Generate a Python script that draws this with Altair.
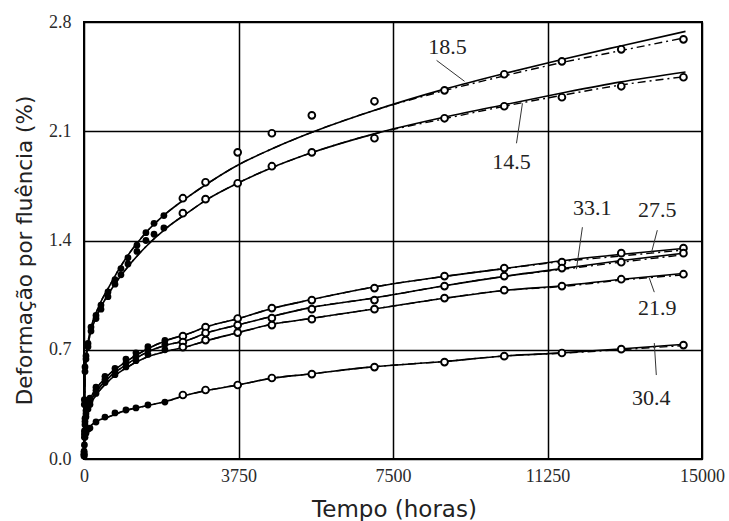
import altair as alt
import pandas as pd

# ---------------- data ----------------
# open-circle observations (hours)
OPEN_T = [2400, 2950, 3730, 4560, 5530, 7050, 8750, 10200, 11600, 13040, 14550]
OPEN_185 = [1.671, 1.773, 1.965, 2.087, 2.202, 2.292, 2.362, 2.465, 2.548, 2.625, 2.689]
OPEN_145 = [1.575, 1.665, 1.767, 1.876, 1.965, 2.055, 2.183, 2.260, 2.318, 2.388, 2.446]
OPEN_275 = [0.787, 0.845, 0.900, 0.967, 1.018, 1.095, 1.172, 1.223, 1.261, 1.319, 1.351]
OPEN_331 = [0.749, 0.807, 0.858, 0.903, 0.960, 1.018, 1.108, 1.172, 1.223, 1.261, 1.319]
OPEN_219 = [0.717, 0.762, 0.810, 0.858, 0.896, 0.960, 1.031, 1.082, 1.108, 1.152, 1.184]
OPEN_304 = [0.410, 0.442, 0.474, 0.519, 0.544, 0.589, 0.621, 0.659, 0.679, 0.704, 0.730]

# filled-dot observations (early times)
FILL_T_TOP = [2, 8, 24, 48, 97, 170, 291, 412, 582, 752, 897, 1067, 1285, 1503, 1700, 1939]
FILL_185 = [0.02, 0.38, 0.59, 0.66, 0.74, 0.845, 0.92, 0.986, 1.07, 1.15, 1.22, 1.29, 1.37, 1.45, 1.51, 1.56]
FILL_145 = [0.02, 0.35, 0.56, 0.64, 0.72, 0.82, 0.90, 0.96, 1.04, 1.12, 1.18, 1.25, 1.33, 1.40, 1.44, 1.48]
FILL_T_LOW = [2, 10, 24, 48, 97, 145, 291, 509, 752, 1018, 1261, 1552, 1964]
FILL_275 = [0.05, 0.18, 0.26, 0.31, 0.36, 0.39, 0.46, 0.53, 0.58, 0.64, 0.68, 0.72, 0.76]
FILL_331 = [0.04, 0.16, 0.24, 0.29, 0.34, 0.37, 0.44, 0.51, 0.56, 0.615, 0.655, 0.70, 0.735]
FILL_219 = [0.03, 0.14, 0.22, 0.27, 0.32, 0.35, 0.42, 0.49, 0.54, 0.59, 0.63, 0.67, 0.70]
FILL_304 = [0.03, 0.09, 0.14, 0.165, 0.19, 0.198, 0.237, 0.269, 0.295, 0.314, 0.327, 0.346, 0.365]

# fitted curves (solid and dash-dot)
LINE_T = [0, 24, 100, 300, 600, 1000, 1500, 2000, 2500, 3000, 3750, 4500, 5500, 7000,
          8750, 10200, 11600, 13000, 14600]
SOLID_185 = [0, 0.56, 0.75, 0.94, 1.10, 1.28, 1.45, 1.575, 1.675, 1.765, 1.885, 1.98, 2.09, 2.23,
             2.37, 2.47, 2.56, 2.645, 2.74]
DASH_185 = [0, 0.56, 0.75, 0.94, 1.10, 1.28, 1.45, 1.575, 1.675, 1.765, 1.885, 1.98, 2.09, 2.23,
            2.36, 2.455, 2.54, 2.615, 2.70]
SOLID_145 = [0, 0.55, 0.73, 0.91, 1.06, 1.21, 1.36, 1.48, 1.575, 1.665, 1.77, 1.86, 1.96, 2.08,
             2.19, 2.27, 2.345, 2.415, 2.48]
DASH_145 = [0, 0.55, 0.73, 0.91, 1.06, 1.21, 1.36, 1.48, 1.575, 1.665, 1.77, 1.86, 1.96, 2.08,
            2.18, 2.26, 2.33, 2.395, 2.45]
SOLID_275 = [0, 0.25, 0.35, 0.45, 0.54, 0.62, 0.70, 0.76, 0.80, 0.85, 0.90, 0.96, 1.02, 1.10,
             1.17, 1.22, 1.27, 1.31, 1.35]
SOLID_331 = [0, 0.23, 0.33, 0.43, 0.52, 0.60, 0.68, 0.73, 0.76, 0.81, 0.86, 0.91, 0.97, 1.03,
             1.11, 1.17, 1.22, 1.27, 1.32]
SOLID_219 = [0, 0.21, 0.31, 0.41, 0.50, 0.58, 0.65, 0.69, 0.72, 0.76, 0.81, 0.86, 0.90, 0.96,
             1.03, 1.08, 1.11, 1.15, 1.19]
SOLID_304 = [0, 0.14, 0.19, 0.24, 0.27, 0.31, 0.34, 0.37, 0.41, 0.44, 0.475, 0.515, 0.545, 0.59,
             0.625, 0.66, 0.68, 0.705, 0.735]
DASH_275 = [0, 0.25, 0.35, 0.45, 0.54, 0.62, 0.70, 0.76, 0.80, 0.85, 0.90, 0.96, 1.02, 1.10,
            1.17, 1.22, 1.265, 1.30, 1.34]
DASH_331 = [0, 0.23, 0.33, 0.43, 0.52, 0.60, 0.68, 0.73, 0.76, 0.81, 0.86, 0.91, 0.97, 1.03,
            1.11, 1.17, 1.215, 1.26, 1.31]
DASH_219 = [0, 0.21, 0.31, 0.41, 0.50, 0.58, 0.65, 0.69, 0.72, 0.76, 0.81, 0.86, 0.90, 0.96,
            1.03, 1.08, 1.105, 1.145, 1.18]
DASH_304 = [0, 0.14, 0.19, 0.24, 0.27, 0.31, 0.34, 0.37, 0.41, 0.44, 0.475, 0.515, 0.545, 0.59,
            0.625, 0.66, 0.678, 0.70, 0.728]

# curve labels and their leader lines
LABEL_TEXT = ["18.5", "14.5", "33.1", "27.5", "21.9", "30.4"]
LABEL_T = [8824, 10376, 12339, 13915, 13915, 13770]
LABEL_V = [2.638, 1.901, 1.607, 1.594, 0.967, 0.390]
LEAD_T1 = [8558, 10497, 12097, 13915, 13721, 13842]
LEAD_V1 = [2.554, 2.023, 1.485, 1.466, 1.159, 0.743]
LEAD_T2 = [9236, 10642, 11952, 13770, 13842, 13891]
LEAD_V2 = [2.420, 2.279, 1.216, 1.319, 1.069, 0.538]

X_TICKS = [0, 3750, 7500, 11250, 15000]
Y_TICKS = [0.0, 0.7, 1.4, 2.1, 2.8]

# ---------------- tables ----------------
def long(ts, series):
    rows = []
    for name, vals in series.items():
        for t, v in zip(ts, vals):
            rows.append({"curve": name, "t": t, "v": v})
    return pd.DataFrame(rows)

open_df = long(OPEN_T, {"18.5": OPEN_185, "14.5": OPEN_145, "27.5": OPEN_275,
                        "33.1": OPEN_331, "21.9": OPEN_219, "30.4": OPEN_304})
fill_df = pd.concat([
    long(FILL_T_TOP, {"18.5": FILL_185, "14.5": FILL_145}),
    long(FILL_T_LOW, {"27.5": FILL_275, "33.1": FILL_331, "21.9": FILL_219, "30.4": FILL_304}),
])
solid_df = long(LINE_T, {"18.5": SOLID_185, "14.5": SOLID_145, "27.5": SOLID_275,
                         "33.1": SOLID_331, "21.9": SOLID_219, "30.4": SOLID_304})
dash_df = long(LINE_T, {"18.5": DASH_185, "14.5": DASH_145, "27.5": DASH_275,
                        "33.1": DASH_331, "21.9": DASH_219, "30.4": DASH_304})
label_df = pd.DataFrame({"text": LABEL_TEXT, "t": LABEL_T, "v": LABEL_V})
lead_df = pd.DataFrame({"t1": LEAD_T1, "v1": LEAD_V1, "t2": LEAD_T2, "v2": LEAD_V2})

x_scale = alt.Scale(domain=[0, 15000], nice=False, zero=False)
y_scale = alt.Scale(domain=[0, 2.8], nice=False, zero=False)

x_axis = alt.Axis(values=X_TICKS, format="d", title="Tempo (horas)", grid=True,
                  gridColor="black", gridWidth=1.5, gridOpacity=1, ticks=False, domain=False,
                  labelFont="Liberation Serif", labelFontSize=18, labelColor="#2a2a2a",
                  labelPadding=8, labelFlush=False,
                  titleFont="DejaVu Sans", titleFontSize=23, titleFontWeight="normal",
                  titleColor="#222", titleX=310, titleY=57, titleBaseline="alphabetic",
                  titleAlign="center")
y_axis = alt.Axis(values=Y_TICKS, format=".1f", title="Deformação por fluência (%)", grid=True,
                  gridColor="black", gridWidth=1.5, gridOpacity=1, ticks=False, domain=False,
                  labelFont="Liberation Serif", labelFontSize=18, labelColor="#2a2a2a",
                  labelPadding=13, labelFlush=False,
                  titleFont="DejaVu Sans", titleFontSize=21.5, titleFontWeight="normal",
                  titleColor="#222", titleAngle=-90, titleX=-53, titleY=228,
                  titleBaseline="alphabetic", titleAlign="center")

X = alt.X("t:Q", scale=x_scale, axis=x_axis)
Y = alt.Y("v:Q", scale=y_scale, axis=y_axis)
Xn = alt.X("t:Q", scale=x_scale)
Yn = alt.Y("v:Q", scale=y_scale)

solid = alt.Chart(solid_df).mark_line(color="black", strokeWidth=1.6, interpolate="monotone").encode(
    x=X, y=Y, detail="curve:N", order="t:Q")
dashed = alt.Chart(dash_df).mark_line(color="black", strokeWidth=1.4, strokeDash=[8, 4, 2, 4],
                                      interpolate="monotone").encode(
    x=Xn, y=Yn, detail="curve:N", order="t:Q")
filled = alt.Chart(fill_df).mark_circle(color="black", size=46, opacity=1).encode(x=Xn, y=Yn)
opened = alt.Chart(open_df).mark_point(shape="circle", filled=True, fill="white", stroke="black",
                                       strokeWidth=1.9, size=46, opacity=1).encode(x=Xn, y=Yn)
leaders = alt.Chart(lead_df).mark_rule(color="#333", strokeWidth=1).encode(
    x=alt.X("t1:Q", scale=x_scale), y=alt.Y("v1:Q", scale=y_scale), x2="t2:Q", y2="v2:Q")
labels = alt.Chart(label_df).mark_text(font="Liberation Serif", fontSize=22, color="#222",
                                       align="center", baseline="middle").encode(
    x=Xn, y=Yn, text="text:N")

chart = alt.layer(solid, dashed, leaders, filled, opened, labels).properties(
    width=618, height=437,
    autosize=alt.AutoSizeParams(type="none"),
    padding={"left": 84, "top": 22, "right": 27, "bottom": 62},
).configure_view(stroke="black", strokeWidth=2)

chart.save("out.html", embed_options={"renderer": "svg", "actions": False})
